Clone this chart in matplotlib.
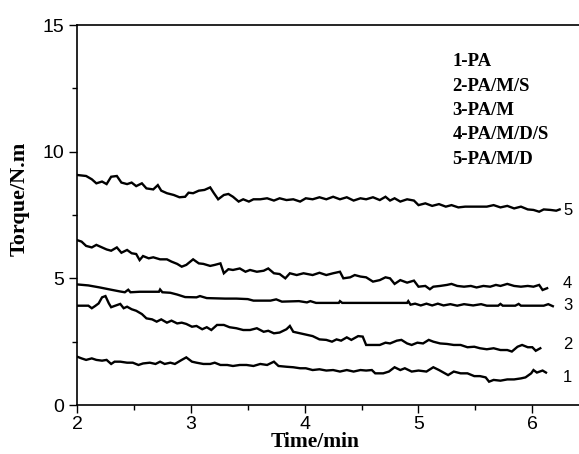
import matplotlib
matplotlib.use("Agg")
import matplotlib.pyplot as plt
from matplotlib.ticker import MultipleLocator

# ---- data (time in min, torque in N.m) ----
T1 = [2.00, 2.04, 2.08, 2.13, 2.17, 2.22, 2.26, 2.30, 2.33, 2.38, 2.44, 2.49,
      2.54, 2.58, 2.64, 2.69, 2.73, 2.77, 2.82, 2.86, 2.92, 2.96, 3.01, 3.05,
      3.11, 3.17, 3.21, 3.26, 3.32, 3.37, 3.43, 3.49, 3.55, 3.61, 3.67, 3.73,
      3.77, 3.84, 3.90, 3.96, 4.01, 4.07, 4.13, 4.19, 4.25, 4.31, 4.37, 4.43,
      4.49, 4.54, 4.59, 4.62, 4.69, 4.74, 4.79, 4.84, 4.88, 4.94, 5.00, 5.07,
      5.13, 5.18, 5.22, 5.26, 5.31, 5.37, 5.43, 5.49, 5.54, 5.59, 5.62, 5.66,
      5.72, 5.78, 5.84, 5.90, 5.94, 5.99, 6.01, 6.04, 6.09, 6.12]
TQ1 = [1.91, 1.84, 1.78, 1.84, 1.78, 1.75, 1.78, 1.62, 1.71, 1.71, 1.67, 1.67,
       1.58, 1.64, 1.67, 1.62, 1.71, 1.62, 1.67, 1.62, 1.78, 1.88, 1.71, 1.67,
       1.62, 1.62, 1.67, 1.58, 1.58, 1.54, 1.58, 1.58, 1.54, 1.62, 1.58, 1.71,
       1.54, 1.51, 1.49, 1.45, 1.45, 1.38, 1.41, 1.36, 1.38, 1.32, 1.38, 1.32,
       1.38, 1.36, 1.38, 1.25, 1.25, 1.32, 1.49, 1.38, 1.45, 1.32, 1.36, 1.32,
       1.49, 1.38, 1.28, 1.18, 1.32, 1.25, 1.25, 1.14, 1.14, 1.09, 0.92, 0.99,
       0.96, 1.01, 1.01, 1.05, 1.09, 1.25, 1.38, 1.28, 1.36, 1.28]

T2 = [2.00, 2.10, 2.13, 2.16, 2.19, 2.22, 2.25, 2.28, 2.30, 2.33, 2.38, 2.41,
      2.44, 2.48, 2.52, 2.57, 2.61, 2.66, 2.70, 2.74, 2.79, 2.83, 2.88, 2.92,
      2.96, 3.01, 3.05, 3.10, 3.14, 3.18, 3.23, 3.29, 3.34, 3.40, 3.46, 3.52,
      3.58, 3.64, 3.68, 3.73, 3.78, 3.84, 3.87, 3.90, 3.96, 4.01, 4.07, 4.13,
      4.19, 4.24, 4.28, 4.32, 4.37, 4.41, 4.47, 4.51, 4.54, 4.60, 4.66, 4.71,
      4.75, 4.81, 4.85, 4.90, 4.94, 4.99, 5.04, 5.09, 5.13, 5.19, 5.25, 5.31,
      5.37, 5.43, 5.49, 5.54, 5.60, 5.66, 5.72, 5.78, 5.82, 5.87, 5.91, 5.96,
      6.00, 6.03, 6.07]
TQ2 = [3.92, 3.92, 3.82, 3.91, 4.01, 4.25, 4.30, 4.01, 3.86, 3.91, 3.99, 3.82,
       3.88, 3.78, 3.72, 3.59, 3.42, 3.38, 3.29, 3.38, 3.25, 3.33, 3.22, 3.25,
       3.20, 3.09, 3.12, 2.99, 3.07, 2.96, 3.16, 3.16, 3.07, 3.03, 2.96, 2.96,
       3.03, 2.89, 2.93, 2.83, 2.86, 2.99, 3.12, 2.89, 2.83, 2.78, 2.72, 2.59,
       2.57, 2.50, 2.59, 2.54, 2.67, 2.57, 2.72, 2.70, 2.37, 2.37, 2.37, 2.46,
       2.43, 2.54, 2.57, 2.43, 2.37, 2.46, 2.43, 2.57, 2.50, 2.43, 2.41, 2.37,
       2.37, 2.28, 2.30, 2.24, 2.20, 2.24, 2.17, 2.17, 2.11, 2.30, 2.37, 2.28,
       2.28, 2.14, 2.24]

T3 = [2.00, 2.10, 2.20, 2.30, 2.38, 2.42, 2.45, 2.47, 2.55, 2.65, 2.72, 2.73,
      2.75, 2.82, 2.88, 2.95, 3.05, 3.08, 3.14, 3.30, 3.40, 3.50, 3.55, 3.70,
      3.75, 3.80, 3.95, 4.02, 4.05, 4.10, 4.30, 4.31, 4.33, 4.90, 4.91, 4.93,
      4.97, 5.02, 5.07, 5.12, 5.17, 5.22, 5.28, 5.34, 5.40, 5.48, 5.55, 5.60,
      5.70, 5.72, 5.74, 5.85, 5.88, 5.90, 6.00, 6.10, 6.14, 6.18]
TQ3 = [4.76, 4.72, 4.64, 4.55, 4.48, 4.45, 4.55, 4.45, 4.47, 4.47, 4.47, 4.56,
       4.45, 4.43, 4.36, 4.26, 4.25, 4.30, 4.22, 4.20, 4.20, 4.18, 4.12, 4.12,
       4.17, 4.08, 4.10, 4.05, 4.10, 4.03, 4.03, 4.10, 4.03, 4.03, 4.10, 3.96,
       4.00, 3.93, 4.00, 3.93, 4.00, 3.93, 3.98, 3.92, 3.98, 3.93, 3.98, 3.92,
       3.92, 3.99, 3.92, 3.92, 3.99, 3.92, 3.92, 3.92, 3.98, 3.90]

T4 = [2.00, 2.04, 2.08, 2.13, 2.17, 2.22, 2.26, 2.30, 2.35, 2.39, 2.44, 2.48,
      2.52, 2.55, 2.58, 2.63, 2.67, 2.73, 2.79, 2.83, 2.88, 2.92, 2.96, 3.02,
      3.07, 3.11, 3.17, 3.21, 3.26, 3.29, 3.33, 3.37, 3.43, 3.48, 3.52, 3.58,
      3.64, 3.68, 3.73, 3.78, 3.83, 3.87, 3.93, 3.99, 4.07, 4.13, 4.19, 4.25,
      4.31, 4.34, 4.40, 4.44, 4.49, 4.54, 4.60, 4.66, 4.71, 4.75, 4.79, 4.84,
      4.90, 4.96, 5.00, 5.06, 5.10, 5.13, 5.19, 5.25, 5.29, 5.34, 5.40, 5.46,
      5.51, 5.57, 5.63, 5.68, 5.72, 5.78, 5.84, 5.90, 5.96, 6.01, 6.06, 6.09,
      6.13]
TQ4 = [6.51, 6.45, 6.28, 6.22, 6.32, 6.22, 6.14, 6.09, 6.22, 6.01, 6.12, 5.99,
       5.96, 5.72, 5.88, 5.79, 5.83, 5.75, 5.75, 5.66, 5.57, 5.46, 5.53, 5.75,
       5.59, 5.57, 5.49, 5.53, 5.59, 5.20, 5.36, 5.33, 5.39, 5.26, 5.33, 5.26,
       5.30, 5.39, 5.20, 5.17, 5.00, 5.20, 5.13, 5.20, 5.13, 5.22, 5.13, 5.20,
       5.26, 5.00, 5.04, 5.13, 5.07, 5.04, 4.87, 4.93, 5.04, 5.00, 4.78, 4.93,
       4.83, 4.91, 4.67, 4.70, 4.57, 4.67, 4.70, 4.74, 4.78, 4.70, 4.67, 4.70,
       4.64, 4.70, 4.67, 4.74, 4.70, 4.78, 4.70, 4.67, 4.70, 4.67, 4.74, 4.54,
       4.61]

T5 = [2.00, 2.08, 2.13, 2.17, 2.22, 2.26, 2.30, 2.35, 2.39, 2.44, 2.48, 2.52,
      2.57, 2.61, 2.67, 2.71, 2.74, 2.79, 2.85, 2.90, 2.95, 2.98, 3.02, 3.07,
      3.12, 3.17, 3.20, 3.24, 3.29, 3.33, 3.37, 3.42, 3.46, 3.51, 3.55, 3.61,
      3.67, 3.73, 3.78, 3.84, 3.90, 3.96, 4.01, 4.07, 4.13, 4.19, 4.25, 4.31,
      4.37, 4.43, 4.49, 4.54, 4.60, 4.66, 4.71, 4.75, 4.79, 4.84, 4.90, 4.96,
      5.00, 5.06, 5.12, 5.18, 5.24, 5.29, 5.35, 5.41, 5.47, 5.54, 5.60, 5.66,
      5.72, 5.78, 5.84, 5.90, 5.96, 6.01, 6.06, 6.10, 6.16, 6.21, 6.24]
TQ5 = [9.08, 9.04, 8.91, 8.75, 8.82, 8.72, 9.01, 9.04, 8.78, 8.72, 8.78, 8.64,
       8.75, 8.55, 8.51, 8.68, 8.46, 8.36, 8.29, 8.20, 8.22, 8.38, 8.36, 8.46,
       8.49, 8.59, 8.38, 8.12, 8.29, 8.33, 8.22, 8.03, 8.12, 8.03, 8.12, 8.12,
       8.16, 8.07, 8.16, 8.09, 8.12, 8.03, 8.16, 8.12, 8.20, 8.12, 8.22, 8.12,
       8.20, 8.07, 8.16, 8.12, 8.20, 8.09, 8.22, 8.07, 8.16, 8.03, 8.12, 8.07,
       7.89, 7.96, 7.86, 7.93, 7.83, 7.89, 7.80, 7.83, 7.83, 7.83, 7.83, 7.89,
       7.80, 7.86, 7.76, 7.83, 7.72, 7.70, 7.63, 7.72, 7.70, 7.67, 7.72]

CURVE_NUM = ["1", "2", "3", "4", "5"]
NUM_Y = [1.08, 2.37, 3.92, 4.80, 7.67]
LEGEND = ["1-PA", "2-PA/M/S", "3-PA/M", "4-PA/M/D/S", "5-PA/M/D"]

SANS = "Liberation Sans"
SERIF = "Liberation Serif"

fig = plt.figure(figsize=(5.79, 4.54), dpi=100)
ax = fig.add_axes([77 / 579, 49 / 454, 1 - 77 / 579, 380 / 454])

for t, q in [(T1, TQ1), (T2, TQ2), (T3, TQ3), (T4, TQ4), (T5, TQ5)]:
    ax.plot(t, q, color="black", lw=1.7, solid_joinstyle="miter")

for lab, y in zip(CURVE_NUM, NUM_Y):
    ax.text(6.31, y, lab, ha="center", va="center", fontsize=12,
            family=SANS)

leg_y = [13.55, 12.59, 11.64, 10.66, 9.70]
for lab, y in zip(LEGEND, leg_y):
    ax.text(5.30, y, lab, ha="left", va="center", fontsize=13.5,
            family=SERIF, fontweight="bold")

ax.set_xlim(2, 6.41)
ax.set_ylim(0, 15)
ax.xaxis.set_major_locator(MultipleLocator(1))
ax.xaxis.set_minor_locator(MultipleLocator(0.5))
ax.yaxis.set_major_locator(MultipleLocator(5))
ax.yaxis.set_minor_locator(MultipleLocator(2.5))
ax.tick_params(which="both", direction="out", width=1.0, labelsize=14)
ax.tick_params(which="major", length=6)
ax.tick_params(which="minor", length=3.5)
ax.tick_params(axis="x", pad=2)
for lbl in ax.get_xticklabels() + ax.get_yticklabels():
    lbl.set_family(SANS)
ax.spines["right"].set_visible(False)
for s in ["left", "bottom", "top"]:
    ax.spines[s].set_linewidth(1.2)

fig.text(20 / 579, 1 - 199 / 454, "Torque/N.m", rotation=90, ha="center",
         va="center", fontsize=16, family=SERIF, fontweight="bold")
fig.text(315 / 579, 1 - 442 / 454, "Time/min", ha="center", va="center",
         fontsize=15.5, family=SERIF, fontweight="bold")

fig.savefig("out.png", dpi=100)
